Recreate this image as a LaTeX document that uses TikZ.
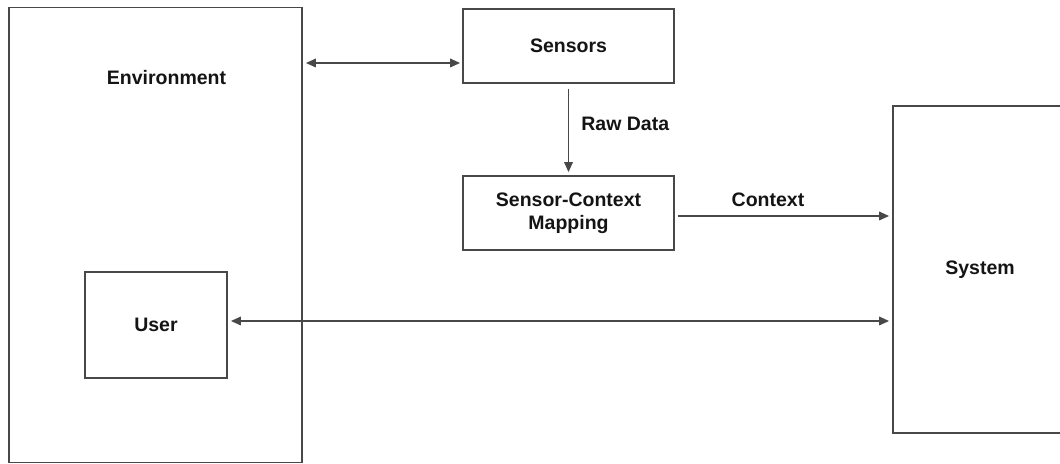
\documentclass[tikz,border=0pt]{standalone}
\usepackage{fontspec}
\setmainfont{Liberation Sans}
\usetikzlibrary{arrows.meta,calc}
\definecolor{linegray}{HTML}{484848}
\definecolor{textblack}{HTML}{141414}
\begin{document}
\begin{tikzpicture}[x=1bp,y=-1bp,
  box/.style={draw=linegray,line width=1.7bp,rectangle,inner sep=0pt,
    font=\fontsize{19.5bp}{23bp}\selectfont\bfseries,text=textblack,align=center},
  lbl/.style={font=\fontsize{19.5bp}{23bp}\selectfont\bfseries,text=textblack,inner sep=0pt},
  conn/.style={draw=linegray,line width=1.7bp,-{Triangle[length=10bp,width=8.5bp]}},
  biconn/.style={draw=linegray,line width=1.7bp,{Triangle[length=10bp,width=8.5bp]}-{Triangle[length=10bp,width=8.5bp]}}]
  \useasboundingbox (0,0) rectangle (1060,464);
  \clip (0,0) rectangle (1060,464);

  % outer environment with the user inside
  \node[box,minimum width=293bp,minimum height=455bp] (env) at (155.5,235) {};
  \node[lbl] (envlabel) at (166.5,78) {Environment};
  \node[box,minimum width=142bp,minimum height=106bp] (user) at (156,325) {User};

  % sensing chain
  \node[box,minimum width=211bp,minimum height=74bp] (sensors) at (568.5,46) {Sensors};
  \node[box,minimum width=211bp,minimum height=74bp] (scm) at (568.5,213) {Sensor-Context\\Mapping};

  % system, running off the right edge
  \node[box,minimum width=184bp,minimum height=327bp] (system) at (985,269.5) {};
  \node[lbl] (syslabel) at (980,270) {System};

  % connectors
  \draw[biconn] ($(env.east |- sensors.west)+(3,17)$) -- ($(sensors.west)+(-2,17)$);
  \draw[conn] ($(sensors.south)+(0,5)$) -- ($(scm.north)+(0,-3)$)
    node[lbl,midway,anchor=west,xshift=12bp,yshift=7bp] (rawlabel) {Raw Data};
  \draw[conn] ($(scm.east)+(3,3)$) -- ($(system.west |- scm.east)+(-3,3)$);
  \node[lbl] (ctxlabel) at (768,200) {Context};
  \draw[biconn] ($(user.east)+(3,-4)$) -- ($(system.west |- user.east)+(-3,-4)$);
\end{tikzpicture}
\end{document}
